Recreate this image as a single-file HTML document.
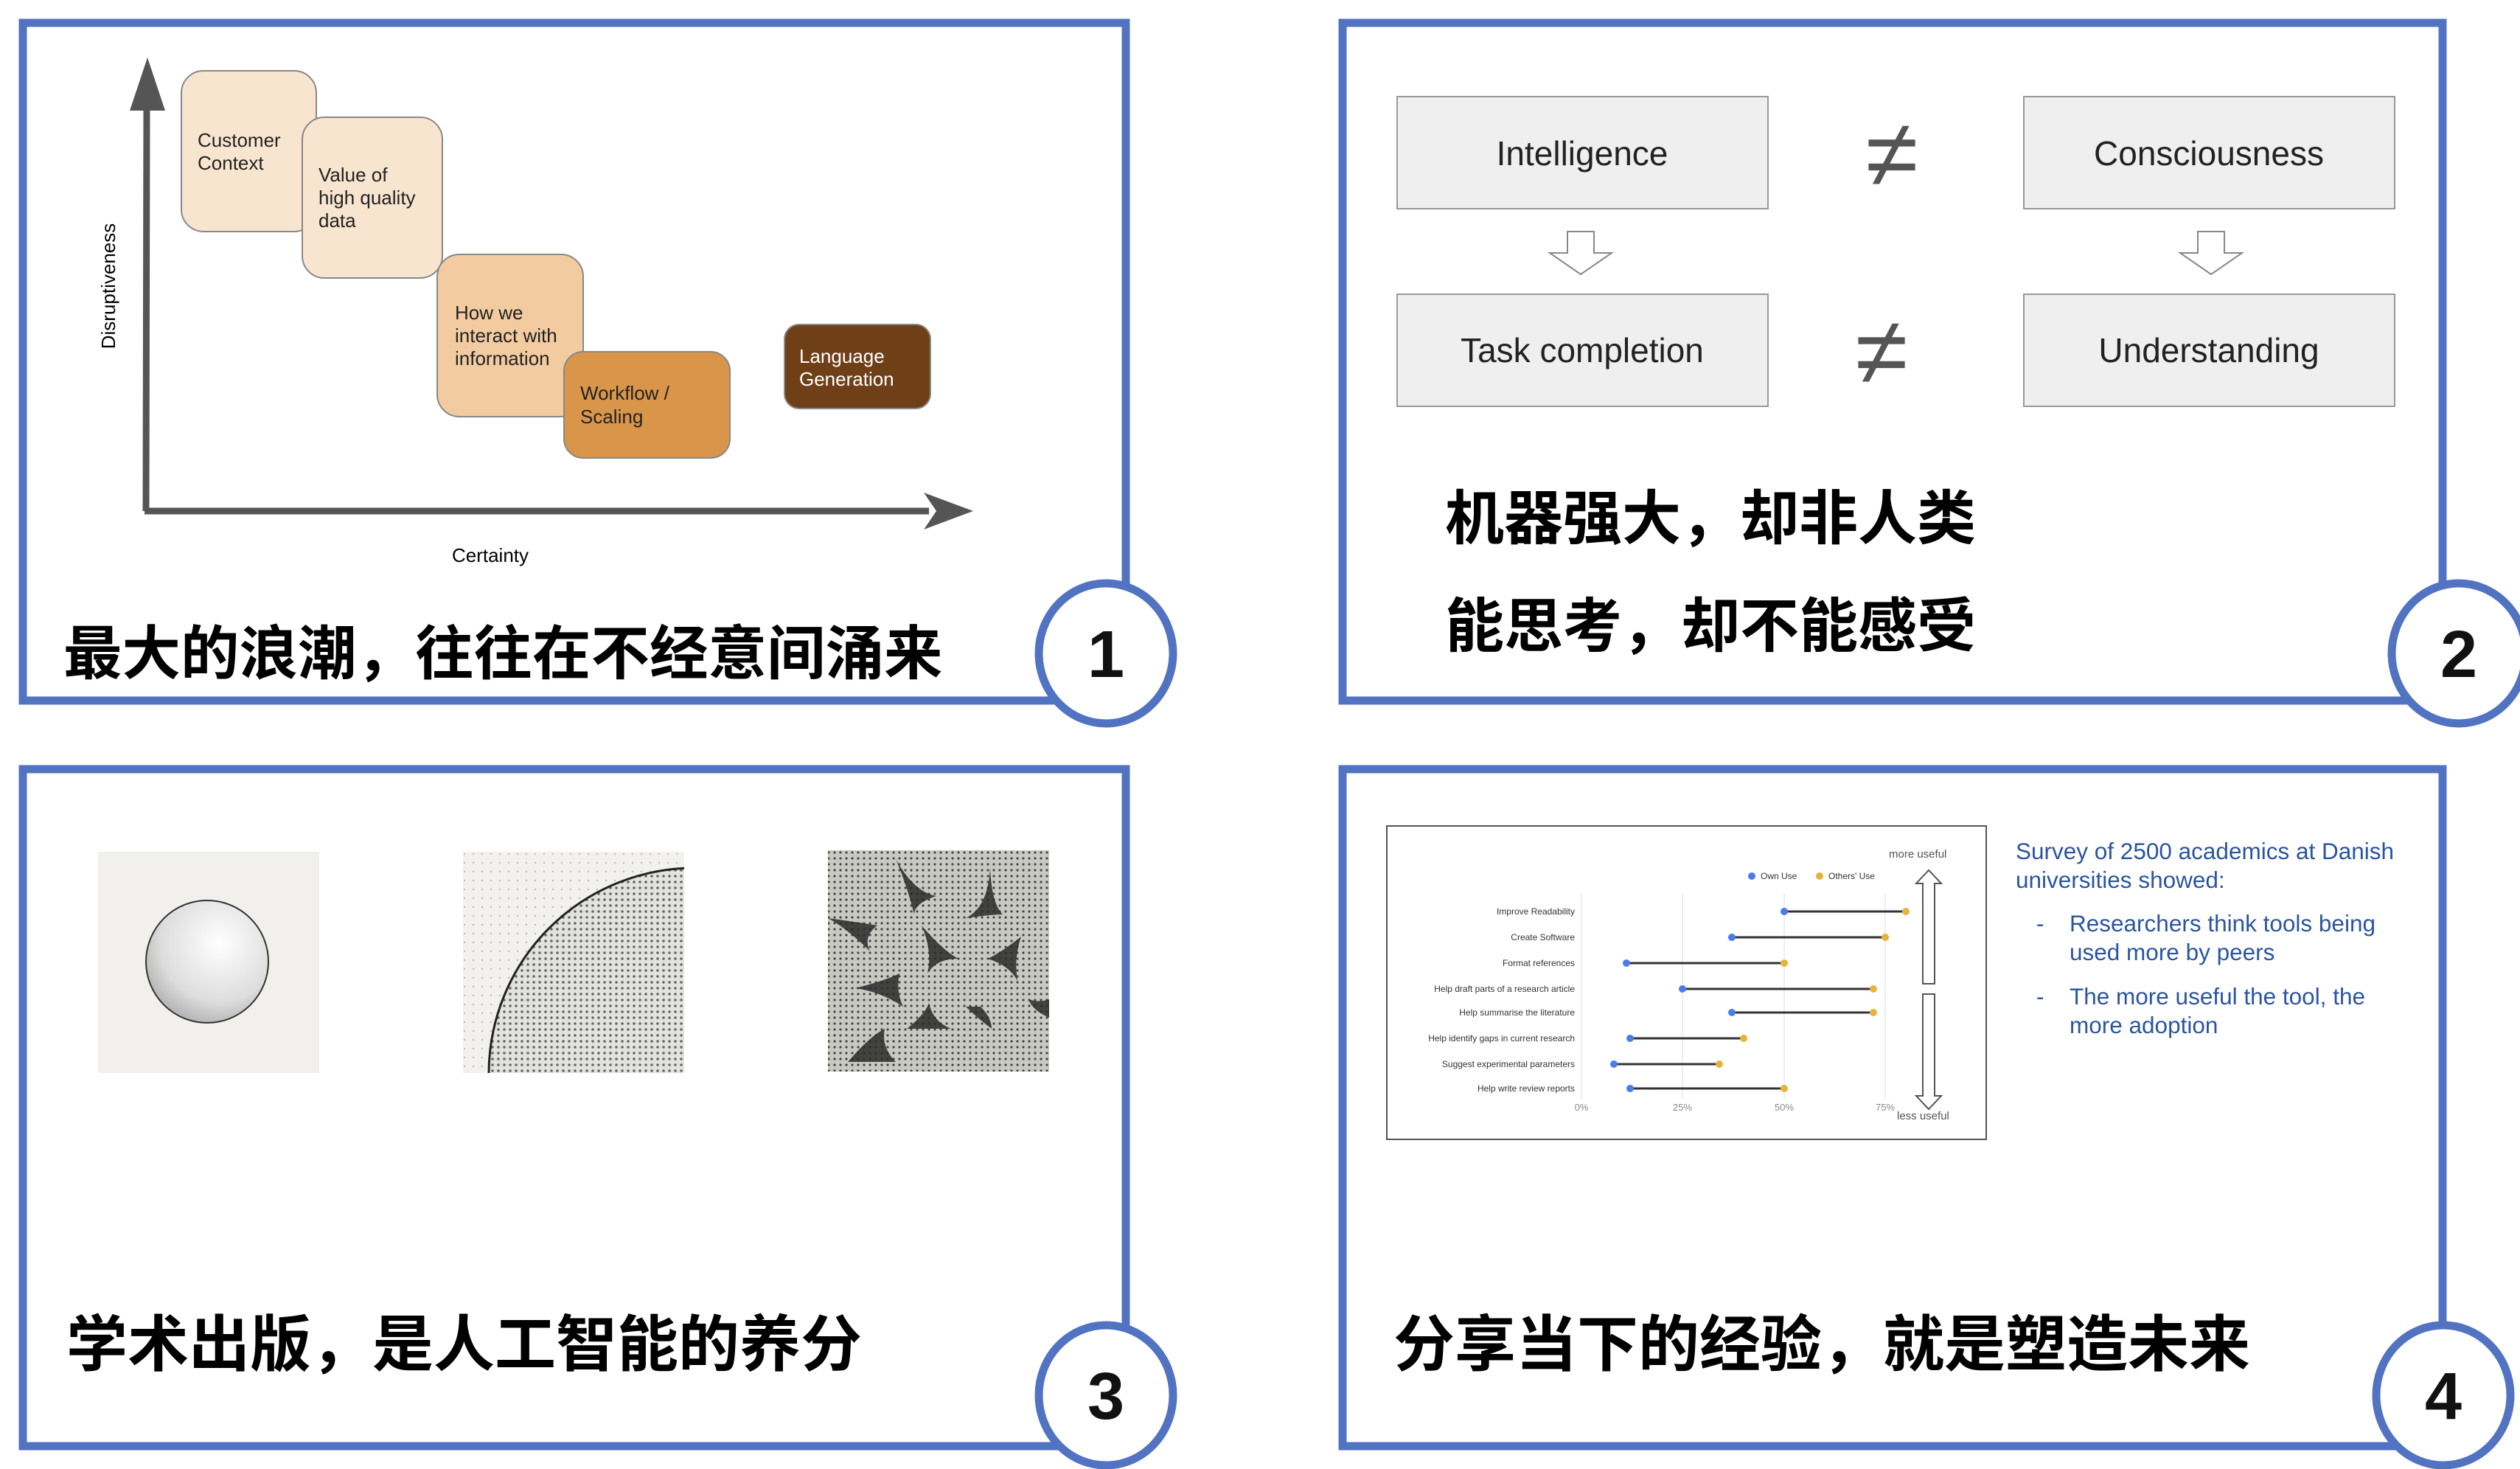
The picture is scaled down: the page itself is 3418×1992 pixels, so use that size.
<!DOCTYPE html>
<html><head><meta charset="utf-8"><style>
html,body{margin:0;padding:0;background:#fff}
svg{display:block}
.l{font-family:"Liberation Sans",Arial,sans-serif}
.c{font-family:"Liberation Sans","Noto Sans CJK SC",sans-serif;font-weight:bold}
</style></head><body>
<svg width="3418" height="1992" viewBox="0 0 3418 1992" xmlns="http://www.w3.org/2000/svg">
<defs>
<pattern id="dots" width="8" height="8" patternUnits="userSpaceOnUse"><rect width="8" height="8" fill="#e2e2de"/><circle cx="4" cy="4" r="1.8" fill="#666"/></pattern>
<pattern id="dots3" width="8" height="8" patternUnits="userSpaceOnUse"><rect width="8" height="8" fill="#c9c9c4"/><circle cx="4" cy="4" r="1.6" fill="#444"/></pattern>
<pattern id="dots2" width="12" height="12" patternUnits="userSpaceOnUse"><rect width="12" height="12" fill="#f2f1ee"/><circle cx="6" cy="6" r="1.2" fill="#bbb"/></pattern>
<radialGradient id="sph" cx="0.6" cy="0.35" r="0.8"><stop offset="0" stop-color="#fff"/><stop offset="0.6" stop-color="#ddd"/><stop offset="1" stop-color="#9a9a9a"/></radialGradient>
<clipPath id="im2"><rect x="628" y="1155" width="300" height="300"/></clipPath>
<clipPath id="im3"><rect x="1123" y="1153" width="300" height="300"/></clipPath>
</defs>

<!-- Panel 1 -->
<rect x="31" y="31" width="1496" height="919" fill="#fff" stroke="#5273C1" stroke-width="11"/>
<line x1="198" y1="693" x2="199" y2="140" stroke="#555" stroke-width="9"/>
<polygon points="200,78 176,150 224,150" fill="#555"/>
<line x1="196" y1="693" x2="1260" y2="693" stroke="#555" stroke-width="9"/>
<polygon points="1320,693 1253,668 1270,693 1253,718" fill="#555"/>
<text class="l" font-size="26" transform="translate(156,388) rotate(-90)" text-anchor="middle">Disruptiveness</text>
<text class="l" font-size="26" x="665" y="762" text-anchor="middle">Certainty</text>
<rect x="246" y="96" width="183" height="218" rx="30" fill="#F8E5D0" stroke="#888" stroke-width="2"/>
<rect x="410" y="159" width="190" height="218" rx="30" fill="#F8E5D0" stroke="#888" stroke-width="2"/>
<rect x="593" y="345" width="198" height="220" rx="30" fill="#F2CCA0" stroke="#888" stroke-width="2"/>
<rect x="765" y="477" width="225" height="144" rx="26" fill="#D9964B" stroke="#888" stroke-width="2"/>
<rect x="1064" y="440" width="198" height="114" rx="20" fill="#6F4018" stroke="#888" stroke-width="2"/>
<g class="l" font-size="26" fill="#222">
<text x="268" y="199">Customer</text><text x="268" y="230">Context</text>
<text x="432" y="246">Value of</text><text x="432" y="277">high quality</text><text x="432" y="308">data</text>
<text x="617" y="433">How we</text><text x="617" y="464">interact with</text><text x="617" y="495">information</text>
<text x="787" y="542">Workflow /</text><text x="787" y="574">Scaling</text>
<text x="1084" y="492" fill="#fff">Language</text><text x="1084" y="523" fill="#fff">Generation</text>
</g>
<text class="c" font-size="79.5" x="86" y="914">最大的浪潮，往往在不经意间涌来</text>

<!-- Panel 2 -->
<rect x="1821" y="31" width="1492" height="919" fill="#fff" stroke="#5273C1" stroke-width="11"/>
<g stroke="#999" stroke-width="2" fill="#EFEFEF">
<rect x="1895" y="131" width="503" height="152"/>
<rect x="2745" y="131" width="503" height="152"/>
<rect x="1895" y="399" width="503" height="152"/>
<rect x="2745" y="399" width="503" height="152"/>
</g>
<g class="l" font-size="46" fill="#222" text-anchor="middle">
<text x="2146" y="224">Intelligence</text>
<text x="2996" y="224">Consciousness</text>
<text x="2146" y="491">Task completion</text>
<text x="2996" y="491">Understanding</text>
</g>
<g class="l" font-size="130" fill="#555" text-anchor="middle">
<text x="2566" y="253">≠</text><text x="2552" y="521">≠</text>
</g>
<g fill="#fff" stroke="#888" stroke-width="2">
<polygon points="2126,314 2162,314 2162,343 2186,343 2144,372 2102,343 2126,343"/>
<polygon points="2981,314 3017,314 3017,343 3041,343 2999,372 2957,343 2981,343"/>
</g>
<text class="c" font-size="80" x="1960" y="731">机器强大，却非人类</text>
<text class="c" font-size="80" x="1960" y="877">能思考，却不能感受</text>

<!-- Panel 3 -->
<rect x="31" y="1043" width="1496" height="918" fill="#fff" stroke="#5273C1" stroke-width="11"/>
<rect x="133" y="1155" width="300" height="300" fill="#f1f0ec"/>
<circle cx="281" cy="1304" r="83" fill="url(#sph)" stroke="#333" stroke-width="2"/>
<g clip-path="url(#im2)">
<rect x="628" y="1155" width="300" height="300" fill="url(#dots2)"/>
<circle cx="942" cy="1456" r="279" fill="url(#dots)" stroke="#222" stroke-width="3"/>
</g>
<g clip-path="url(#im3)">
<rect x="1123" y="1153" width="300" height="300" fill="url(#dots3)"/>
<g fill="#2a2a28" opacity="0.85">
<path d="M1343,1177 Q1340,1230 1310,1245 Q1345,1240 1360,1240 Q1345,1225 1343,1177Z"/>
<path d="M1250,1255 Q1280,1290 1300,1300 Q1270,1300 1258,1320 Q1265,1290 1250,1255Z"/>
<path d="M1385,1270 Q1360,1290 1340,1300 Q1370,1310 1380,1330 Q1375,1300 1385,1270Z"/>
<path d="M1160,1340 Q1200,1330 1220,1320 Q1215,1345 1225,1365 Q1195,1345 1160,1340Z"/>
<path d="M1330,1365 Q1345,1380 1345,1395 Q1325,1380 1310,1365Z"/>
<path d="M1230,1395 Q1255,1375 1260,1360 Q1265,1385 1290,1395Z"/>
<path d="M1215,1165 Q1240,1210 1270,1215 Q1240,1225 1240,1240 Q1230,1200 1215,1165Z"/>
<path d="M1123,1245 Q1160,1250 1190,1255 Q1170,1270 1180,1290 Q1150,1260 1123,1245Z"/>
<path d="M1150,1440 Q1180,1405 1200,1395 Q1195,1420 1215,1440Z"/>
<path d="M1423,1380 Q1400,1370 1395,1355 Q1410,1360 1423,1355Z"/>
</g>
</g>
<text class="c" font-size="83" x="90" y="1852">学术出版，是人工智能的养分</text>

<!-- Panel 4 -->
<rect x="1821" y="1043" width="1492" height="918" fill="#fff" stroke="#5273C1" stroke-width="11"/>
<rect x="1881" y="1120" width="813" height="425" fill="#fff" stroke="#555" stroke-width="2"/>
<g stroke="#eee" stroke-width="2">
<line x1="2145" y1="1212" x2="2145" y2="1490"/><line x1="2282" y1="1212" x2="2282" y2="1490"/>
<line x1="2420" y1="1212" x2="2420" y2="1490"/><line x1="2557" y1="1212" x2="2557" y2="1490"/>
</g>
<g class="l" font-size="12" fill="#333" text-anchor="end">
<text x="2136" y="1240">Improve Readability</text>
<text x="2136" y="1275">Create Software</text>
<text x="2136" y="1310">Format references</text>
<text x="2136" y="1345">Help draft parts of a research article</text>
<text x="2136" y="1377">Help summarise the literature</text>
<text x="2136" y="1412">Help identify gaps in current research</text>
<text x="2136" y="1447">Suggest experimental parameters</text>
<text x="2136" y="1480">Help write review reports</text>
</g>
<g stroke="#333" stroke-width="3">
<line x1="2420" y1="1236" x2="2585" y2="1236"/><line x1="2349" y1="1271" x2="2557" y2="1271"/>
<line x1="2206" y1="1306" x2="2420" y2="1306"/><line x1="2282" y1="1341" x2="2541" y2="1341"/>
<line x1="2349" y1="1373" x2="2541" y2="1373"/><line x1="2211" y1="1408" x2="2365" y2="1408"/>
<line x1="2189" y1="1443" x2="2332" y2="1443"/><line x1="2211" y1="1476" x2="2420" y2="1476"/>
</g>
<g fill="#4A7CEB">
<circle cx="2420" cy="1236" r="5"/><circle cx="2349" cy="1271" r="5"/><circle cx="2206" cy="1306" r="5"/><circle cx="2282" cy="1341" r="5"/>
<circle cx="2349" cy="1373" r="5"/><circle cx="2211" cy="1408" r="5"/><circle cx="2189" cy="1443" r="5"/><circle cx="2211" cy="1476" r="5"/>
<circle cx="2376" cy="1188" r="5"/>
</g>
<g fill="#E6B43A">
<circle cx="2585" cy="1236" r="5"/><circle cx="2557" cy="1271" r="5"/><circle cx="2420" cy="1306" r="5"/><circle cx="2541" cy="1341" r="5"/>
<circle cx="2541" cy="1373" r="5"/><circle cx="2365" cy="1408" r="5"/><circle cx="2332" cy="1443" r="5"/><circle cx="2420" cy="1476" r="5"/>
<circle cx="2468" cy="1188" r="5"/>
</g>
<g class="l" font-size="12" fill="#333">
<text x="2388" y="1192">Own Use</text><text x="2480" y="1192">Others' Use</text>
</g>
<g class="l" font-size="13" fill="#888" text-anchor="middle">
<text x="2145" y="1506">0%</text><text x="2282" y="1506">25%</text><text x="2420" y="1506">50%</text><text x="2557" y="1506">75%</text>
</g>
<g class="l" font-size="15" fill="#555">
<text x="2562" y="1163">more useful</text><text x="2573" y="1518">less useful</text>
</g>
<g fill="#fff" stroke="#555" stroke-width="2">
<polygon points="2608,1334 2624,1334 2624,1198 2633,1198 2616,1180 2599,1198 2608,1198"/>
<polygon points="2608,1348 2624,1348 2624,1486 2633,1486 2616,1504 2599,1486 2608,1486"/>
</g>
<g class="l" font-size="31.5" fill="#2B55A0">
<text x="2734" y="1165">Survey of 2500 academics at Danish</text>
<text x="2734" y="1204">universities showed:</text>
<text x="2762" y="1263">-</text><text x="2807" y="1263">Researchers think tools being</text>
<text x="2807" y="1302">used more by peers</text>
<text x="2762" y="1362">-</text><text x="2807" y="1362">The more useful the tool, the</text>
<text x="2807" y="1401">more adoption</text>
</g>
<text class="c" font-size="83" x="1890" y="1852">分享当下的经验，就是塑造未来</text>

<!-- circles -->
<g fill="#fff" stroke="#5273C1" stroke-width="11">
<ellipse cx="1500" cy="886" rx="91" ry="95"/>
<ellipse cx="3335" cy="886" rx="91" ry="95"/>
<ellipse cx="1500" cy="1892" rx="91" ry="95"/>
<ellipse cx="3314" cy="1892" rx="91" ry="95"/>
</g>
<g class="l" font-size="90" font-weight="bold" fill="#111" text-anchor="middle">
<text x="1500" y="918">1</text><text x="3335" y="918">2</text><text x="1500" y="1924">3</text><text x="3314" y="1924">4</text>
</g>
</svg>
</body></html>
